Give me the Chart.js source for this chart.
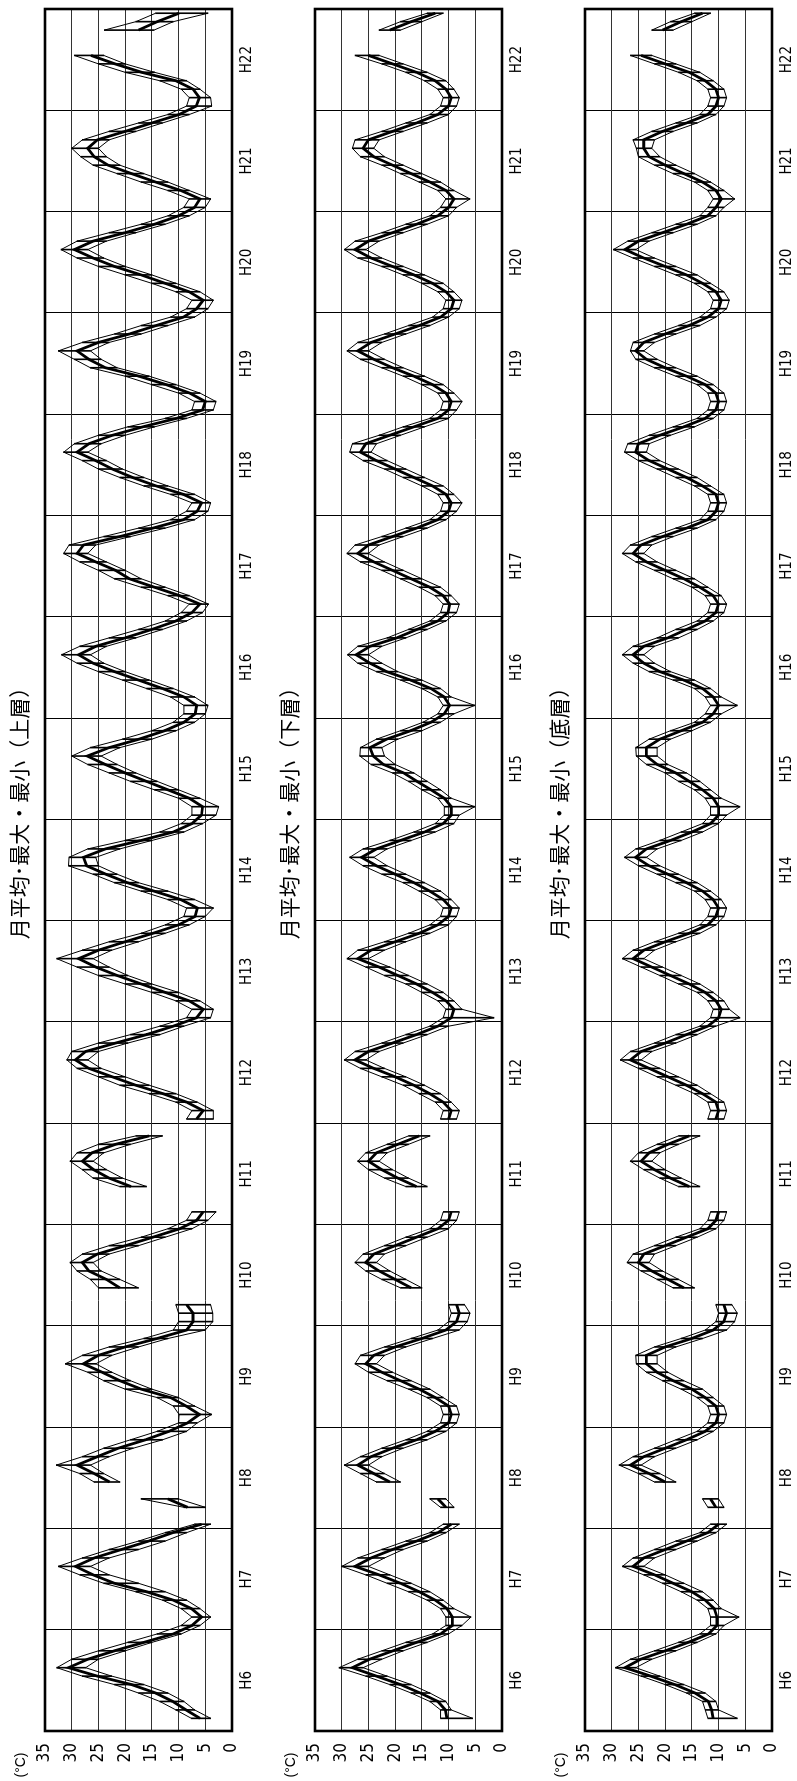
<!DOCTYPE html>
<html>
<head>
<meta charset="utf-8">
<script src="https://cdn.jsdelivr.net/npm/chart.js@4.4.1/dist/chart.umd.min.js"></script>
<style>
  body { margin: 0; background: #fff; width: 797px; height: 1781px; overflow: hidden; position: relative; }
  .panel { position: absolute; top: 1781px; width: 1781px; height: 270px; transform-origin: 0 0; transform: rotate(-90deg); }
  .panel canvas { position: absolute; left: 0; top: 0; }
  .ttl { position: absolute; left: 0; width: 1946px; top: 5px; text-align: center; line-height: 26px;
         font-family: 'Noto Sans CJK JP', sans-serif; font-size: 21px; color: #000; white-space: nowrap; }
  .unit { position: absolute; left: 0; width: 32px; top: 11px; text-align: center; line-height: 18px;
          font-family: 'Liberation Sans', Arial, sans-serif; font-size: 14px; color: #000; }
</style>
</head>
<body>
<div class="panel" id="p1" style="left:0px"><canvas id="c1" width="1781" height="270"></canvas><div class="ttl">月平均･最大・最小（上層）</div><div class="unit">(°C)</div></div>
<div class="panel" id="p2" style="left:270px"><canvas id="c2" width="1781" height="270"></canvas><div class="ttl">月平均･最大・最小（下層）</div><div class="unit">(°C)</div></div>
<div class="panel" id="p3" style="left:540px"><canvas id="c3" width="1781" height="270"></canvas><div class="ttl">月平均･最大・最小（底層）</div><div class="unit">(°C)</div></div>
<script>
// fiscal labels, one block of 12 months per year
const years = ['H6','H7','H8','H9','H10','H11','H12','H13','H14','H15','H16','H17','H18','H19','H20','H21','H22'];
const monthNames = ['1','2','3','4','5','6','7','8','9','10','11','12'];
const tempTicks = [0, 5, 10, 15, 20, 25, 30, 35];

// 上層 (upper layer) Jan..Dec per row
const upperMean = [
  null, 6.0, 8.6, 11.1, 14.3, 18.8, 25.2, 30.6, 27, 22, 16.5, 11,
  7.5, 5.7, 7.6, 11, 16, 22, 26, 29.3, 25.8, 20.7, 15.6, 11.1,
  5.7, null, 8.3, 12, null, 22.9, 25.8, 29, 25.2, 21.3, 16.2, 11.8,
  8.3, 6.1, 8.6, 11.5, 17, 21, 24.3, 27.8, 25, 20, 14, 8.5,
  7.3, 7.3, 8.5, null, 21, 23.5, 26.8, 28, 25.2, 19.9, 14.8, 9.8,
  6.6, 5.4, null, null, 18.9, 23, 25.9, 28, 26.2, 21.8, 15.5, null,
  6.6, 5.4, 8.5, 12.9, 18, 22.4, 26.8, 29.3, 27.4, 21.8, 16, 11,
  6.6, 5.4, 8, 12.5, 17, 21.5, 25.5, 28.7, 25, 20, 14.8, 10,
  6.9, 6.5, 9.6, 14.6, 19.6, 23.6, 27.2, 27.8, 23.7, 17, 11, 7.5,
  5.7, 5.5, 8, 12, 16, 20, 23.7, 27.1, 23, 17.4, 12.6, 9,
  6.9, 6.6, 9, 13, 17.5, 22, 26, 28.7, 25.5, 20, 15, 10.5,
  7.5, 6, 9.8, 14.5, 19.2, 21.8, 25.5, 29, 27.8, 21, 14.8, 9.1,
  6.5, 5.7, 9.1, 14.2, 18.6, 22.4, 25.5, 29, 26.8, 22.4, 16.7, 10.4,
  5.5, 5, 7.9, 12.3, 17.4, 23.7, 26.8, 29, 25, 19.2, 14.2, 9.1,
  6.6, 5.4, 8, 12.5, 17, 22, 26, 29.5, 26, 20, 14.5, 10,
  7, 6, 9.6, 14.3, 18.8, 23.2, 25.8, 27, 25.2, 20, 15, 9.9,
  6.7, 6.1, 7.3, 10.5, 16.9, 21.9, 26.4, null, null, 17.5, 14, 9.9
];
const upperMax = [
  null, 7.6, 10.5, 13.5, 17.5, 22, 28, 32.8, 30, 25, 19.5, 14,
  9.5, 7.5, 9.5, 13, 18, 24, 28.5, 32.5, 28, 23, 17.5, 12.5,
  7, null, 9, 17, null, 25.8, 28.5, 32.9, 28, 24, 19, 14,
  10, 9.9, 11, 14, 20, 24, 27, 31.2, 28, 23, 16.5, 11,
  10, 10, 10.5, null, 25, 26.5, 29, 30.3, 28, 23, 17, 12,
  8.5, 7.5, null, null, 21, 26, 28, 30.3, 29, 25, 18, null,
  8.5, 7.5, 10.5, 15.5, 21, 25, 29, 30.9, 30, 25, 19, 13.5,
  8.5, 7.5, 10.5, 15, 20, 25, 29, 32.8, 28, 23, 17, 12.5,
  9, 8.5, 12, 17, 22, 26, 30.6, 30.5, 27, 20, 13.5, 9.5,
  7.5, 7.5, 10, 14.5, 19, 23, 27, 30, 26.5, 20.5, 15, 11,
  9, 9, 11.5, 16, 20.5, 25, 29, 31.9, 28.5, 23, 17.5, 12.5,
  9.5, 8, 12, 17, 22, 25, 28.5, 31.5, 30.5, 24, 17.5, 11.5,
  8.5, 7.5, 11.5, 16.5, 21, 25, 28, 31.5, 29.5, 25, 19.5, 12.5,
  7.5, 7, 10, 15, 20, 26.5, 29.5, 32.5, 28, 22, 17, 11.5,
  8.5, 7.5, 10.5, 15, 20, 25, 29, 32, 29, 23, 17, 12,
  9, 8, 12, 17, 21.5, 26, 28.3, 30, 28, 23, 17.5, 12,
  8.5, 8, 9.5, 13.5, 20, 25, 29.5, null, null, 23.9, 18, 14.3
];
const upperMin = [
  null, 4, 7, 9, 12, 16.5, 22.5, 27.4, 25, 20, 15, 9.5,
  6, 4, 6, 8.5, 12.5, 17.5, 23, 26.5, 23, 17.5, 12.5, 8.5,
  4, null, 5, 10, null, 21, 24, 26.5, 23, 18.5, 13, 8.5,
  6.5, 3.8, 7, 10, 15, 19, 22.5, 25.5, 22.5, 17.5, 12, 5,
  3.6, 3.6, 4, null, 17.5, 21, 24.5, 26, 23, 17.5, 12.5, 7.5,
  4.5, 3, null, null, 16, 20.5, 23.5, 26, 24, 19, 13, null,
  3.5, 3.5, 6.5, 10.5, 15.5, 20, 24.5, 27, 25, 19.5, 13.5, 9,
  4, 3.5, 6, 10, 15, 19.5, 23, 26, 22.5, 17.5, 12.5, 8,
  5, 3.5, 7, 12, 17.5, 21.5, 25, 25.5, 21, 15, 9, 5.5,
  3, 2.5, 6, 10, 14, 18, 21.5, 24.5, 21, 15, 10.5, 7,
  5, 4.5, 7, 11, 15.5, 20, 24, 26.5, 23.5, 18, 13, 8.5,
  5.5, 4.4, 8, 12.5, 17, 20, 23.5, 27, 25.5, 19, 12.5, 7,
  4.5, 4, 7, 12, 16.5, 20.5, 23.5, 27, 24.5, 20, 14.5, 8.5,
  3.5, 3, 6, 10.5, 15.5, 21.5, 24.5, 26.5, 23, 17, 12, 7,
  4.5, 3.5, 6, 10.5, 15, 20, 24, 27, 23.5, 18, 12.5, 8,
  5, 4, 8, 12, 16.5, 21, 23.5, 25, 23, 18, 13, 8,
  3.8, 4, 6, 8.5, 14.5, 20, 24, null, null, 14.6, 11, 4.5
];

// 下層 (lower layer)
const lowerMean = [
  null, 10.3, 10.6, 12, 15.3, 19, 23.5, 28, 24.8, 20.4, 16, 11.5,
  9.3, 9.3, 10.3, 12.5, 15.5, 19, 23, 27.5, 24.5, 20.5, 16, 12,
  9.5, null, 10.5, 12, null, 21, 24, 27, 24.5, 20.5, 16, 12.5,
  10, 9.5, 10, 12.5, 15.5, 19, 22.5, 25.5, 24, 20, 15, 10.5,
  8.5, 8, 8.5, null, 17, 20, 23, 25.5, 24, 20, 16, 12,
  10, 9.5, null, null, 16, 19.5, 22.5, 25, 23.5, 19.5, 15.5, null,
  10, 9.5, 11, 13.5, 16.5, 20, 24, 27.5, 25, 20.5, 16, 12,
  9.5, 9, 10.5, 13, 16, 19.5, 23, 27, 24.5, 20, 15.5, 12,
  10, 9.5, 11, 13.5, 16.5, 20, 23.5, 26.3, 23.5, 19, 14.5, 11,
  9.5, 9.5, 10.8, 13.3, 15.9, 18.4, 22.2, 24.1, 24.7, 21.6, 17.1, 13.3,
  10.8, 9.8, 10.8, 13.3, 17.1, 21.6, 24.7, 27.3, 24.7, 19.7, 15.9, 12,
  10.1, 9.8, 11, 13.5, 17, 20.5, 24, 27, 25, 20.5, 16, 12,
  10, 9.5, 10.5, 13, 16.5, 20, 23.5, 26.5, 25.5, 21, 16.5, 12,
  10, 9.5, 10.5, 13, 16.5, 20.5, 24, 27, 24.5, 20, 15.5, 11.5,
  9.5, 9, 10.5, 13, 16.5, 20.5, 24.5, 27.5, 25, 20.5, 16, 12,
  10, 9, 10.5, 13.5, 17, 20.5, 24, 26, 25, 20.5, 16, 12,
  10, 9.5, 10.5, 12.5, 16, 20.5, 25, null, null, 21, 17, 12.5
];
const lowerMax = [
  null, 11.5, 11.5, 13.5, 17, 21, 25.5, 30.5, 27, 22.5, 18, 13,
  10.5, 10.5, 11.5, 14, 17.5, 21.5, 25.5, 30, 27, 22.5, 18, 13.5,
  11, null, 11.5, 13.5, null, 23.5, 26.5, 29.5, 26.5, 22.5, 18, 14,
  11.5, 11, 11.5, 14, 17.5, 21.5, 25, 27.5, 26.5, 22, 17, 12,
  10, 9.5, 10, null, 19, 22.5, 25.5, 27.5, 26, 22, 18, 13.5,
  11.5, 11, null, null, 18, 22, 25, 27, 25.5, 21.5, 17.5, null,
  11.5, 11, 12.5, 15.5, 18.5, 22.5, 26.5, 29.5, 27.5, 22.5, 18, 13.5,
  11, 10.5, 12, 15, 18, 22, 25.5, 29, 27, 22, 17.5, 13.5,
  11.5, 11, 12.5, 15.5, 18.5, 22.5, 26, 28.5, 26, 21, 16.5, 12.5,
  10.8, 10.8, 12, 15, 17.5, 20.5, 24.5, 26.6, 26.5, 23.5, 19, 14.8,
  12, 11, 12, 15, 19, 23.5, 27, 28.9, 27, 21.5, 17.5, 13.5,
  11.5, 11, 12.5, 15.5, 19, 22.5, 26.5, 29, 27.5, 22.5, 18, 13.5,
  11.5, 11, 12, 15, 18.5, 22, 26, 28.5, 28, 23, 18.5, 13.5,
  11.5, 11, 12, 15, 18.5, 22.5, 26.5, 29, 27, 22, 17.5, 13,
  11, 10.5, 12, 15, 18.5, 22.5, 27, 29.5, 27.5, 22.5, 18, 13.5,
  11.5, 10.5, 12, 15.5, 19, 22.5, 26.5, 28, 27.5, 22.5, 18, 13.5,
  11.5, 11, 12, 14.5, 18, 22.5, 27.5, null, null, 23, 19, 14
];
const lowerMin = [
  null, 5.5, 9.5, 10.5, 13.5, 17, 21.5, 26, 22.5, 18.5, 14, 10,
  7.5, 5.8, 9, 11, 13.5, 17, 21, 25, 22, 18.5, 14, 10.5,
  8, null, 9, 10.5, null, 19, 22, 25, 22.5, 18.5, 14, 10.5,
  8.5, 8, 8.5, 11, 13.5, 17, 20.5, 23.5, 22, 18, 13, 8,
  6.5, 6, 7, null, 15, 18, 21, 23.5, 22, 18, 14, 10,
  8.5, 8, null, null, 14, 17.5, 20.5, 23, 21.5, 17.5, 13.5, null,
  8.5, 8, 9.5, 11.5, 14.5, 18, 22, 25.5, 23, 18.5, 14, 10,
  1.5, 7.5, 9, 11, 14, 17.5, 21, 25, 22, 18, 13.5, 10,
  8.5, 8, 9.5, 11.5, 14.5, 18, 21.5, 24, 21.5, 17, 12.5, 9,
  8, 5.1, 9.5, 11.5, 14, 16.5, 20, 22, 22.5, 19.5, 15, 11.5,
  9, 5.1, 9.5, 11.5, 15, 19.5, 22.5, 25, 22.5, 18, 14, 10.5,
  8.5, 8, 9.5, 11.5, 15, 18.5, 22, 25, 23, 18.5, 14, 10.5,
  8.5, 7.5, 9, 11, 14.5, 18, 21.5, 24.5, 23.5, 19, 14.5, 10,
  8.5, 7.5, 9, 11, 14.5, 18.5, 22, 25, 22.5, 18, 13.5, 10,
  8, 7.5, 9, 11, 14.5, 18.5, 22.5, 25.5, 23, 18.5, 14, 10,
  8.5, 6, 9, 11.5, 15, 18.5, 22, 24, 23, 18.5, 14, 10,
  8.5, 8, 9, 10.5, 14, 18.5, 23, null, null, 19, 15, 11
];

// 底層 (bottom layer)
const bottomMean = [
  null, 11, 11.3, 11.9, 14.4, 18.2, 22.7, 27.5, 24.6, 20, 15.7, 11.9,
  10.3, 10.3, 10.8, 12.5, 15, 18.5, 22, 26, 24, 20, 16, 12,
  10, null, 10.5, 11.5, null, 20, 23, 26.5, 24, 20, 16, 12.5,
  10.5, 10, 10.5, 12.5, 15, 18.5, 21.5, 23.5, 23.5, 20, 15, 11,
  9, 8.5, 9, null, 16.5, 19.5, 22.5, 25, 24, 20, 16, 12,
  10.5, 10, null, null, 15.5, 19, 22, 24.5, 23, 19.5, 15.5, null,
  10.5, 10, 10.5, 13, 16, 19.5, 23, 26.5, 24.5, 20, 16, 12,
  10, 9.5, 10.5, 12.5, 15.5, 19, 22.5, 26, 24, 20, 15.5, 12,
  10.5, 10, 11, 13, 16, 19.5, 23, 25.5, 23.5, 19, 15, 11.5,
  10, 10, 11, 13, 15.5, 18, 21.5, 23.5, 23.5, 21, 17, 13,
  11, 10, 11, 13, 16.5, 21, 24, 26, 24, 19.5, 16, 12.5,
  10.5, 10, 11, 13.5, 16.5, 20, 23.5, 26, 24.5, 20.5, 16, 12,
  10.5, 10, 10.5, 13, 16, 19.5, 23, 25.5, 25, 21, 16.5, 12.5,
  10.5, 10, 10.5, 12.5, 16, 20, 23.5, 25.5, 24, 20, 15.5, 12,
  10, 9.5, 10.5, 13, 16, 20, 24, 27.5, 25, 20.5, 16, 12,
  10.5, 9.5, 10.5, 13, 16.5, 20, 23, 24, 24, 20.5, 16, 12,
  10.5, 10, 10.5, 12.5, 15.5, 20, 24.5, null, null, 20.5, 17, 13
];
const bottomMax = [
  null, 12, 12.5, 13, 16, 20, 24.5, 29.3, 26.5, 22, 17.5, 13.5,
  11.5, 11.5, 12, 14, 17, 20.5, 24, 28, 26, 22, 18, 13.5,
  11.5, null, 12, 13, null, 22, 25, 28.6, 26, 22, 18, 14,
  12, 11.5, 12, 14, 17, 20.5, 23.5, 25.4, 25.5, 22, 17, 12.5,
  10.5, 10, 10.5, null, 18.5, 21.5, 24.5, 27.1, 26, 22, 18, 13.5,
  12, 11.5, null, null, 17.5, 21, 24, 26.5, 25, 21.5, 17.5, null,
  12, 11.5, 12, 14.5, 18, 21.5, 25, 28.4, 26.5, 22, 18, 13.5,
  11.5, 11, 12, 14, 17.5, 21, 24.5, 28, 26, 22, 17.5, 13.5,
  12, 11.5, 12.5, 14.5, 18, 21.5, 25, 27.6, 25.5, 21, 17, 13,
  11.5, 11.5, 12.5, 14.5, 17.5, 20, 23.5, 25.4, 25.5, 23, 19, 14.5,
  12.5, 11.5, 12.5, 14.5, 18.5, 23, 26, 28, 26, 21.5, 18, 14,
  12, 11.5, 12.5, 15, 18.5, 22, 25.5, 28, 26.5, 22.5, 18, 13.5,
  12, 11.5, 12, 14.5, 18, 21.5, 25, 27.6, 27, 23, 18.5, 14,
  12, 11.5, 12, 14, 18, 22, 25.5, 26.5, 26, 22, 17.5, 13.5,
  11.5, 11, 12, 14.5, 18, 22, 26, 29.7, 27, 22.5, 18, 13.5,
  12, 11, 12, 14.5, 18.5, 22, 25, 25.4, 26, 22.5, 18, 13.5,
  12, 11.5, 12, 14, 17.5, 22, 26.5, null, null, 22.5, 19, 14.5
];
const bottomMin = [
  null, 6.5, 10, 10.5, 12.5, 16.5, 21, 25.5, 22.5, 18, 14, 10.5,
  9, 6.2, 9.5, 11, 13, 16.5, 20, 24, 22, 18, 14, 10.5,
  8.5, null, 9, 10, null, 18, 21, 24.5, 22, 18, 14, 11,
  9, 8.5, 9, 11, 13, 16.5, 19.5, 21.5, 21.5, 18, 13, 8.5,
  7, 6.5, 7.5, null, 14.5, 17.5, 20.5, 23, 22, 18, 14, 10.5,
  9, 8.5, null, null, 13.5, 17, 20, 22.5, 21, 17.5, 13.5, null,
  9, 8.5, 9, 11.5, 14, 17.5, 21, 24.5, 22.5, 18, 14, 10.5,
  6, 8, 9, 11, 13.5, 17, 20.5, 24, 22, 18, 13.5, 10.5,
  9, 8.5, 9.5, 11.5, 14, 17.5, 21, 23.5, 21.5, 17, 13, 10,
  8.5, 6, 9.5, 11.5, 13.5, 16, 19.5, 21.5, 21.5, 19, 15, 11.5,
  9.5, 6.5, 9.5, 11.5, 14.5, 19, 22, 24, 22, 17.5, 14, 11,
  9, 8.5, 9.5, 12, 14.5, 18, 21.5, 24, 22.5, 18.5, 14, 10.5,
  9, 8.5, 9, 11.5, 14, 17.5, 21, 23.5, 23, 19, 14.5, 11,
  9, 8.5, 9, 11, 14, 18, 21.5, 24, 22, 18, 13.5, 10.5,
  8.5, 8, 9, 11.5, 14, 18, 22, 25.5, 23, 18.5, 14, 10.5,
  9, 7, 9, 11.5, 14.5, 18, 21, 22.5, 22, 18.5, 14, 10.5,
  9, 8.5, 9, 11, 13.5, 18, 22.5, null, null, 18.5, 15, 11.5
];

const months = years.flatMap(y => monthNames.map(m => y + '/' + m));

const frame = {
  id: 'frame',
  afterDatasetsDraw(chart) {
    const a = chart.chartArea, ctx = chart.ctx;
    ctx.save();
    ctx.strokeStyle = '#000';
    ctx.lineWidth = 2.6;
    ctx.strokeRect(a.left, a.top, a.right - a.left, a.bottom - a.top);
    ctx.restore();
  }
};

const narrow = "'Liberation Sans Narrow', 'DejaVu Sans Condensed', 'Liberation Sans', sans-serif";

function drawPanel(id, mean, max, min) {
  const ranges = max.map((v, i) => (v == null || min[i] == null) ? null : [min[i], v]);
  new Chart(document.getElementById(id), {
    data: {
      labels: months,
      datasets: [
        { type: 'line', data: mean, borderColor: '#000', borderWidth: 2.8, pointRadius: 0, tension: 0 },
        { type: 'line', data: max, borderColor: '#000', borderWidth: 1, pointRadius: 0, tension: 0 },
        { type: 'line', data: min, borderColor: '#000', borderWidth: 1, pointRadius: 0, tension: 0 },
        { type: 'bar', data: ranges, backgroundColor: '#000', barThickness: 1 }
      ]
    },
    options: {
      responsive: false,
      animation: false,
      layout: { padding: { top: 45, right: 9, left: 0, bottom: 0 } },
      plugins: { legend: { display: false }, tooltip: { enabled: false } },
      scales: {
        x: {
          offset: true,
          grid: {
            offset: true,
            drawTicks: false,
            lineWidth: 1,
            color: c => (c.index % 12 === 0 ? '#000' : 'rgba(0,0,0,0)')
          },
          border: { display: false },
          ticks: {
            autoSkip: false, maxRotation: 0, minRotation: 0, padding: 6, labelOffset: 4.2,
            color: '#000', font: { family: narrow, size: 15 },
            callback: (v, i) => (i % 12 === 5 ? years[Math.floor(i / 12)] : '')
          },
          afterFit: s => { s.height = 38; }
        },
        y: {
          min: 0, max: 35,
          afterBuildTicks: s => { s.ticks = tempTicks.map(v => ({ value: v })); },
          grid: { color: '#333', lineWidth: 1, drawTicks: false },
          border: { display: false },
          ticks: { padding: 12, color: '#000', font: { family: narrow, size: 17 } },
          afterFit: s => { s.width = 50; }
        }
      }
    },
    plugins: [frame]
  });
}

drawPanel('c1', upperMean, upperMax, upperMin);
drawPanel('c2', lowerMean, lowerMax, lowerMin);
drawPanel('c3', bottomMean, bottomMax, bottomMin);
</script>
</body>
</html>
